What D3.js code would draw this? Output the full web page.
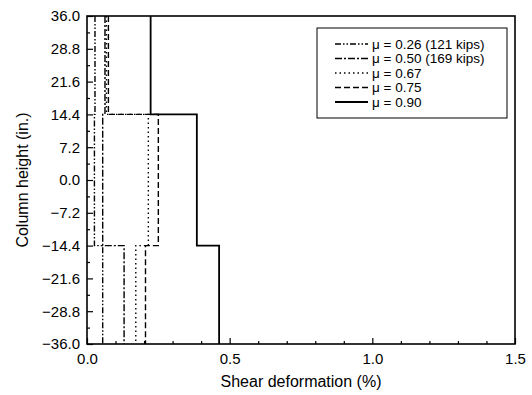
<!DOCTYPE html>
<html>
<head>
<meta charset="utf-8">
<script src="https://cdn.jsdelivr.net/npm/d3@7"></script>
<style>
  body { margin: 0; background: #fff; }
  text { font-family: "Liberation Sans", Arial, sans-serif; }
</style>
</head>
<body>
<script>
// segment boundaries along the column (in.)
var heights = [36, 14.4, -14.4, -36];
// shear deformation (%) per segment: top, middle, bottom
var mu026 = [0.028, 0.026, 0.055];
var mu050 = [0.063, 0.055, 0.13];
var mu067 = [0.068, 0.215, 0.171];
var mu075 = [0.075, 0.25, 0.205];
var mu090 = [0.223, 0.385, 0.463];
var seriesNames = ["\u03bc = 0.26 (121 kips)", "\u03bc = 0.50 (169 kips)", "\u03bc = 0.67", "\u03bc = 0.75", "\u03bc = 0.90"];
var xTicks = [0, 0.5, 1.0, 1.5];
var xMinor = [0.1, 0.2, 0.3, 0.4, 0.6, 0.7, 0.8, 0.9, 1.1, 1.2, 1.3, 1.4];
var yTicks = [-36, -28.8, -21.6, -14.4, -7.2, 0, 7.2, 14.4, 21.6, 28.8, 36];
var yMinor = [-32.4, -25.2, -18, -10.8, -3.6, 3.6, 10.8, 18, 25.2, 32.4];

var dashes = ["6,2,1.5,2,1.5,2", "7,2,2,2", "1.5,3", "6,3", null];
var allSeries = [mu026, mu050, mu067, mu075, mu090];

var svg = d3.select("body").append("svg")
  .attr("width", 532)
  .attr("height", 395);

var margin = { top: 16, right: 17, bottom: 51, left: 87 },
  width = 532 - margin.left - margin.right,
  height = 395 - margin.top - margin.bottom;

var g = svg.append("g")
  .attr("transform", "translate(" + margin.left + "," + margin.top + ")");

var xScale = d3.scaleLinear().domain([0, 1.5]).range([0, width]);
var yScale = d3.scaleLinear().domain([-36, 36]).range([height, 0]);

// major ticks point inwards
var xAxis = g.append("g")
  .attr("transform", "translate(0," + height + ")")
  .call(d3.axisBottom(xScale).tickValues(xTicks).tickSize(-6).tickPadding(9)
    .tickFormat(d3.format(".1f")));
var xAxisMinor = g.append("g")
  .attr("transform", "translate(0," + height + ")")
  .call(d3.axisBottom(xScale).tickValues(xMinor).tickSize(-3).tickFormat(""));

var yAxis = g.append("g")
  .call(d3.axisLeft(yScale).tickValues(yTicks).tickSize(-6).tickPadding(7)
    .tickFormat(d3.format(".1f")));
var yAxisMinor = g.append("g")
  .call(d3.axisLeft(yScale).tickValues(yMinor).tickSize(-3).tickFormat(""));

[xAxis, xAxisMinor, yAxis, yAxisMinor].forEach(function (a) {
  a.select(".domain").remove();
  a.selectAll(".tick line").attr("stroke", "#000").attr("stroke-width", 1.2);
  a.selectAll(".tick text")
    .attr("fill", "#000")
    .attr("font-size", 15)
    .style("font-family", "'Liberation Sans', Arial, sans-serif");
});

// step profiles
var line = d3.line()
  .x(function (d) { return xScale(d[0]); })
  .y(function (d) { return yScale(d[1]); });

function profile(vals) {
  var pts = [];
  vals.forEach(function (v, i) {
    pts.push([v, heights[i]]);
    pts.push([v, heights[i + 1]]);
  });
  return pts;
}

allSeries.forEach(function (s, i) {
  g.append("path")
    .datum(profile(s))
    .attr("fill", "none")
    .attr("stroke", "#000")
    .attr("stroke-width", i == 4 ? 1.8 : 1.4)
    .attr("stroke-dasharray", dashes[i])
    .attr("d", line);
});

// frame
g.append("rect")
  .attr("x", 0)
  .attr("y", 0)
  .attr("width", width)
  .attr("height", height)
  .attr("fill", "none")
  .attr("stroke", "#000")
  .attr("stroke-width", 1.6);

// axis titles
svg.append("text")
  .attr("x", margin.left + width / 2)
  .attr("y", 387)
  .attr("text-anchor", "middle")
  .attr("font-size", 16)
  .text("Shear deformation (%)");

svg.append("text")
  .attr("transform", "translate(28," + (margin.top + height / 2) + ") rotate(-90)")
  .attr("text-anchor", "middle")
  .attr("font-size", 16)
  .text("Column height (in.)");

// legend
var legend = svg.append("g").attr("transform", "translate(317,28)");
legend.append("rect")
  .attr("width", 190)
  .attr("height", 90)
  .attr("fill", "#fff")
  .attr("stroke", "#000")
  .attr("stroke-width", 1);

seriesNames.forEach(function (name, i) {
  var yy = 16 + i * 14.5;
  legend.append("line")
    .attr("x1", 18)
    .attr("x2", 51)
    .attr("y1", yy)
    .attr("y2", yy)
    .attr("stroke", "#000")
    .attr("stroke-width", i == 4 ? 1.8 : 1.4)
    .attr("stroke-dasharray", dashes[i]);
  legend.append("text")
    .attr("x", 55)
    .attr("y", yy + 4.5)
    .attr("font-size", 13.5)
    .text(name);
});
</script>
</body>
</html>
